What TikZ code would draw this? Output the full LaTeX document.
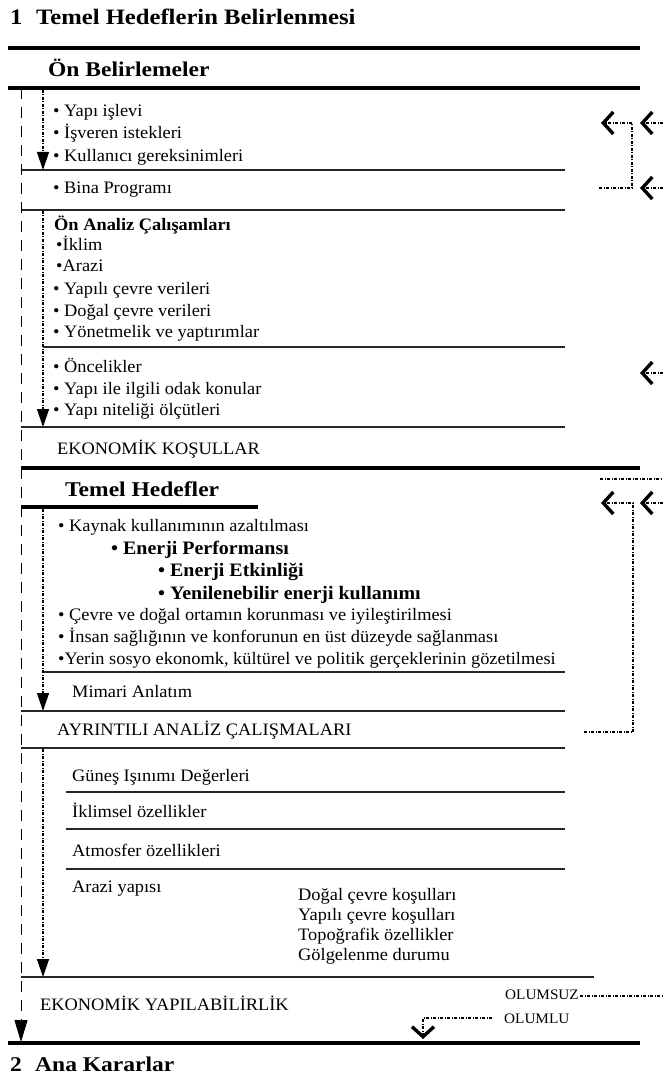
\documentclass[tikz,border=0pt]{standalone}
\usepackage{fontspec}
\setmainfont{Liberation Serif}[FakeStretch=1.05]
\newfontfamily\headfont{Liberation Serif}[FakeStretch=1.12]
\usetikzlibrary{arrows.meta}
\tikzset{
  txt/.style={anchor=base west, inner sep=0pt, font=\fontsize{17.5}{20}\selectfont},
  small/.style={anchor=base west, inner sep=0pt, font=\fontsize{14.5}{17}\selectfont},
  bigb/.style={anchor=base west, inner sep=0pt, font=\headfont\fontsize{21}{24}\selectfont\bfseries},
  titleb/.style={anchor=base west, inner sep=0pt, font=\headfont\fontsize{22}{25}\selectfont\bfseries},
  largeb/.style={anchor=base west, inner sep=0pt, font=\fontsize{19}{21}\selectfont\bfseries},
  boldtxt/.style={anchor=base west, inner sep=0pt, font=\fontsize{17.5}{20}\selectfont\bfseries},
  heavyrule/.style={line width=3.5pt},
  rule/.style={line width=1.1pt, black!85},
  outerflow/.style={line width=1pt, dash pattern=on 11pt off 8pt,
    -{Triangle[length=22pt,width=13pt]}},
  innerflow/.style={line width=1.3pt, dash pattern=on 3pt off 1.5pt on 1pt off 1.5pt,
    -{Triangle[length=18pt,width=12pt]}},
  feedback/.style={line width=1.2pt, dash pattern=on 3pt off 1.5pt on 1pt off 1.5pt},
  chevron/.style={feedback, -{Straight Barb[length=10pt,width=22pt,line width=3.4pt]}},
}
\begin{document}
\begin{tikzpicture}[x=1pt,y=-1pt]
\useasboundingbox (0,0) rectangle (663,1083);

% headings
\node[titleb] (n1) at (10,25) {1};
\node[titleb] (title) at (36,25) {Temel Hedeflerin Belirlenmesi};
\draw[heavyrule] (8,48) -- (640,48);
\node[bigb] (onb) at (48,77) {Ön Belirlemeler};
\draw[heavyrule] (8,88) -- (640,88);

% first block
\node[txt] (a1) at (53,117) {• Yapı işlevi};
\node[txt] (a2) at (53,139) {• İşveren istekleri};
\node[txt] (a3) at (53,162) {• Kullanıcı gereksinimleri};
\draw[rule] (21,170) -- (565,170);
\node[txt] (bp) at (53,194) {• Bina Programı};
\draw[rule] (21,210) -- (565,210);
\node[boldtxt] (oa) at (54,231) {Ön Analiz Çalışamları};
\node[txt] (b1) at (56,251) {•İklim};
\node[txt] (b2) at (56,271) {•Arazi};
\node[txt] (b3) at (53,294) {• Yapılı çevre verileri};
\node[txt] (b4) at (53,316) {• Doğal çevre verileri};
\node[txt] (b5) at (53,337) {• Yönetmelik ve yaptırımlar};
\draw[rule] (43,347) -- (565,347);
\node[txt] (c1) at (53,372) {• Öncelikler};
\node[txt] (c2) at (53,394) {• Yapı ile ilgili odak konular};
\node[txt] (c3) at (53,415) {• Yapı niteliği ölçütleri};
\draw[rule] (21,427) -- (565,427);
\node[txt] (ek) at (57,454) {EKONOMİK KOŞULLAR};
\draw[heavyrule] (21,468) -- (640,468);

% second block
\node[bigb] (th) at (65,496) {Temel Hedefler};
\draw[heavyrule] (21,507) -- (258,507);
\node[txt] (d1) at (58,531) {• Kaynak kullanımının azaltılması};
\node[largeb] (d2) at (111,554) {• Enerji Performansı};
\node[largeb] (d3) at (158,576) {• Enerji Etkinliği};
\node[largeb] (d4) at (158,599) {• Yenilenebilir enerji kullanımı};
\node[txt] (d5) at (58,620) {• Çevre ve doğal ortamın korunması ve iyileştirilmesi};
\node[txt] (d6) at (58,642) {• İnsan sağlığının ve konforunun en üst düzeyde sağlanması};
\node[txt] (d7) at (58,664) {•Yerin sosyo ekonomk, kültürel ve politik gerçeklerinin gözetilmesi};
\draw[rule] (43,672) -- (565,672);
\node[txt] (ma) at (72,697) {Mimari Anlatım};
\draw[rule] (21,711) -- (565,711);
\node[txt] (aa) at (57,735) {AYRINTILI ANALİZ ÇALIŞMALARI};
\draw[rule] (21,748) -- (565,748);

% detailed analysis
\node[txt] (e1) at (72,781) {Güneş Işınımı Değerleri};
\draw[rule] (66,792) -- (565,792);
\node[txt] (e2) at (72,817) {İklimsel özellikler};
\draw[rule] (66,829) -- (565,829);
\node[txt] (e3) at (72,856) {Atmosfer özellikleri};
\draw[rule] (66,869) -- (565,869);
\node[txt] (e4) at (72,892) {Arazi yapısı};
\node[txt] (f1) at (298,900) {Doğal çevre koşulları};
\node[txt] (f2) at (298,920) {Yapılı çevre koşulları};
\node[txt] (f3) at (298,940) {Topoğrafik özellikler};
\node[txt] (f4) at (298,960) {Gölgelenme durumu};
\draw[rule] (21,977) -- (594,977);
\node[txt] (ey) at (40,1010) {EKONOMİK YAPILABİLİRLİK};
\node[small] (neg) at (505,999) {OLUMSUZ};
\node[small] (pos) at (504,1023) {OLUMLU};
\draw[heavyrule] (8,1043) -- (640,1043);
\node[bigb] (n2) at (10,1071) {2};
\node[bigb] (ak) at (35,1071) {Ana Kararlar};

% main flow on the left
\coordinate (outerTop) at (21,88);
\coordinate (outerEnd) at (21,1042);
\draw[outerflow] (outerTop) -- (outerEnd);

\coordinate (i1s) at (43,90);   \coordinate (i1e) at (43,170);
\coordinate (i2s) at (43,211);  \coordinate (i2e) at (43,427);
\coordinate (i3s) at (43,509);  \coordinate (i3e) at (43,711);
\coordinate (i4s) at (43,749);  \coordinate (i4e) at (43,977);
\draw[innerflow] (i1s) -- (i1e);
\draw[innerflow] (i2s) -- (i2e);
\draw[innerflow] (i3s) -- (i3e);
\draw[innerflow] (i4s) -- (i4e);

% feedback loops on the right
\coordinate (edgeA) at (663,123); \coordinate (tipA2) at (640,123);
\coordinate (tipA1) at (601,123); \coordinate (jA) at (632,123);
\coordinate (edgeB) at (663,188); \coordinate (tipB) at (640,188);
\coordinate (jB) at (632,188);    \coordinate (startB) at (599,188);
\draw[chevron] (edgeA) -- (tipA2);
\draw[chevron] (edgeB) -- (tipB);
\draw[chevron] (startB) -- (jB) -- (jA) -- (tipA1);

\coordinate (edgeC) at (663,373); \coordinate (tipC) at (640,373);
\draw[chevron] (edgeC) -- (tipC);

\coordinate (topD) at (600,479); \coordinate (edgeD) at (663,479);
\draw[feedback] (topD) -- (edgeD);

\coordinate (edgeE) at (663,503); \coordinate (tipE2) at (640,503);
\coordinate (tipE1) at (601,503); \coordinate (jE) at (633,503);
\coordinate (jF) at (633,732);    \coordinate (startF) at (584,732);
\draw[chevron] (edgeE) -- (tipE2);
\draw[chevron] (startF) -- (jF) -- (jE) -- (tipE1);

% decision outcomes
\coordinate (negS) at (580,996); \coordinate (negE) at (663,996);
\draw[feedback] (negS) -- (negE);
\coordinate (posS) at (492,1018); \coordinate (posJ) at (423,1018);
\coordinate (posE) at (423,1039);
\draw[chevron] (posS) -- (posJ) -- (posE);
\end{tikzpicture}
\end{document}
